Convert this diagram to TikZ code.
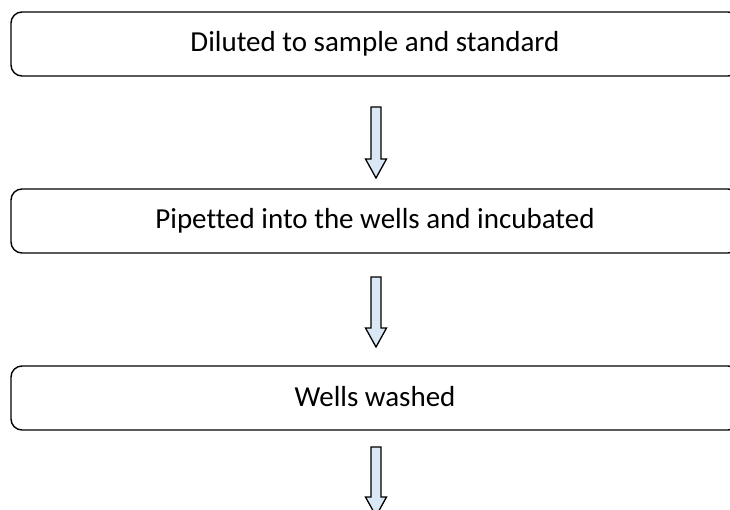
\documentclass[tikz,border=0pt]{standalone}
\usepackage{fontspec}
\setmainfont{Carlito}[Ligatures=NoCommon]
\definecolor{arrowfill}{RGB}{218,232,246}
\tikzset{
  stepbox/.style={draw=black, line width=1.4pt, rounded corners=11pt},
  boxtext/.style={anchor=base, inner sep=0pt, font=\fontsize{29}{35}\selectfont},
  blockarrow/.style={draw=black, line width=1.3pt, fill=arrowfill, line join=miter}
}
% #1 top y, #2 head base y, #3 tip y, #4 centre x
\newcommand\myblockarrow[4]{%
  \draw[blockarrow] (#4-5,#1) -- (#4+5,#1) -- (#4+5,#2) -- (#4+10.5,#2)
    -- (#4,#3) -- (#4-10.5,#2) -- (#4-5,#2) -- cycle;}
\begin{document}
\begin{tikzpicture}[x=1pt,y=-1pt]
\useasboundingbox (0,0) rectangle (730,510);
\clip (0,0) rectangle (730,510);
\fill[white] (0,0) rectangle (730,510);
% boxes
\draw[stepbox] (11,12) rectangle (739,76);
\draw[stepbox] (11,189) rectangle (739,253);
\draw[stepbox] (11,366) rectangle (739,430);
\node[boxtext] (t1) at (375,52) {Diluted to sample and standard};
\node[boxtext] (t2) at (375,229) {Pipetted into the wells and incubated};
\node[boxtext] (t3) at (375,406) {Wells washed};
% arrows
\myblockarrow{107}{159}{178}{376}
\myblockarrow{277}{328}{347}{376}
\myblockarrow{447}{497}{516}{376}
\end{tikzpicture}
\end{document}
